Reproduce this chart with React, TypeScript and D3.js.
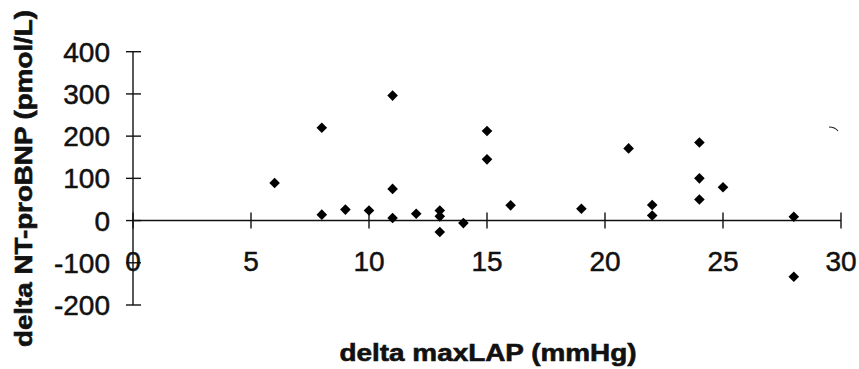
import React from "react";
import * as d3 from "d3";

const xValues = [6, 8, 8, 9, 10, 11, 11, 11, 12, 13, 13, 13, 14, 15, 15, 16, 19, 21, 22, 22, 24, 24, 24, 25, 28, 28];
const yValues = [89, 220, 14, 26, 24, 296, 75, 6, 16, 24, 10, -27, -6, 212, 145, 36, 28, 171, 37, 12, 185, 100, 50, 79, 9, -133];
const xTicks = [0, 5, 10, 15, 20, 25, 30];
const yTicks = [400, 300, 200, 100, 0, -100, -200];
const xTitle = "delta maxLAP (mmHg)";
const yTitle = "delta NT-proBNP (pmol/L)";

export default function App() {
  const W = 859, H = 369;
  const x = d3.scaleLinear().domain([0, 30]).range([133, 841]);
  const y = d3.scaleLinear().domain([-200, 400]).range([305, 51.7]);
  const points = xValues.map((v, i) => ({ x: v, y: yValues[i] }));
  const diamond = (cx: number, cy: number, r: number) =>
    `M${cx},${cy - r}L${cx + r},${cy}L${cx},${cy + r}L${cx - r},${cy}Z`;
  const font = "'Liberation Sans', Arial, sans-serif";
  return (
    <svg width={W} height={H} style={{ position: "absolute", left: 0, top: 0, background: "#fff" }}>
      <rect x={0} y={0} width={W} height={H} fill="#fff" />
      {/* y axis */}
      <line x1={x(0)} x2={x(0)} y1={y(400)} y2={y(-200)} stroke="#111" strokeWidth={1.4} />
      {yTicks.map((t) => (
        <g key={"yt" + t}>
          <line x1={x(0) - 7} x2={x(0) + 8} y1={y(t)} y2={y(t)} stroke="#111" strokeWidth={1.4} />
          <text x={110} y={y(t) + 10} textAnchor="end" fontFamily={font} fontSize={28} fill="#111" stroke="#111" strokeWidth={0.5}>
            {t}
          </text>
        </g>
      ))}
      {/* x axis */}
      <line x1={x(0)} x2={x(30)} y1={y(0)} y2={y(0)} stroke="#111" strokeWidth={1.4} />
      {xTicks.map((t) => (
        <g key={"xt" + t}>
          <line x1={x(t)} x2={x(t)} y1={y(0) - 8} y2={y(0) + 8} stroke="#111" strokeWidth={1.4} />
          <text x={x(t)} y={271} textAnchor="middle" fontFamily={font} fontSize={28} fill="#111" stroke="#111" strokeWidth={0.5}>
            {t}
          </text>
        </g>
      ))}
      {/* points */}
      {points.map((p, i) => (
        <path key={"p" + i} d={diamond(x(p.x), y(p.y), 5.3)} fill="#000" />
      ))}
      {/* scan artifact arc */}
      <path d="M829,127 Q835,127 838,131" fill="none" stroke="#222" strokeWidth={1.2} />
      {/* titles */}
      <text
        x={488}
        y={361}
        textAnchor="middle"
        fontFamily={font}
        fontWeight="bold"
        fontSize={24}
        textLength={297}
        lengthAdjust="spacingAndGlyphs"
        fill="#111"
        stroke="#111"
        strokeWidth={0.6}
      >
        {xTitle}
      </text>
      <text
        transform={`translate(32,178.5) rotate(-90)`}
        textAnchor="middle"
        fontFamily={font}
        fontWeight="bold"
        fontSize={24}
        textLength={337}
        lengthAdjust="spacingAndGlyphs"
        fill="#111"
        stroke="#111"
        strokeWidth={0.6}
      >
        {yTitle}
      </text>
    </svg>
  );
}
